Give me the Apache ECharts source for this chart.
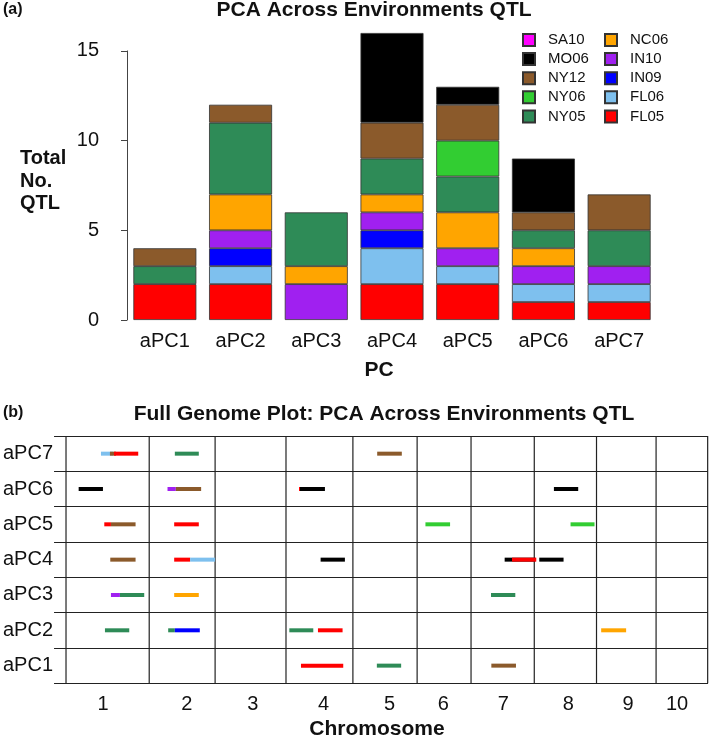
<!DOCTYPE html>
<html>
<head>
<meta charset="utf-8">
<script src="https://cdn.jsdelivr.net/npm/echarts@6/dist/echarts.min.js"></script>
<style>
html,body{margin:0;padding:0;background:#fff;}
#c{width:709px;height:738px;}
</style>
</head>
<body>
<div id="c"></div>
<script>
// ---------- DATA ----------
const pcs = ['aPC1', 'aPC2', 'aPC3', 'aPC4', 'aPC5', 'aPC6', 'aPC7'];
// stacking order, bottom to top
const envs = ['FL05', 'FL06', 'IN09', 'IN10', 'NC06', 'NY05', 'NY06', 'NY12', 'MO06', 'SA10'];
// number of QTL per environment, per PC (aPC1..aPC7)
const FL05 = [2, 2, 0, 2, 2, 1, 1];
const FL06 = [0, 1, 0, 2, 1, 1, 1];
const IN09 = [0, 1, 0, 1, 0, 0, 0];
const IN10 = [0, 1, 2, 1, 1, 1, 1];
const NC06 = [0, 2, 1, 1, 2, 1, 0];
const NY05 = [1, 4, 3, 2, 2, 1, 2];
const NY06 = [0, 0, 0, 0, 2, 0, 0];
const NY12 = [1, 1, 0, 2, 2, 1, 2];
const MO06 = [0, 0, 0, 5, 1, 3, 0];
const SA10 = [0, 0, 0, 0, 0, 0, 0];
const counts = { FL05, FL06, IN09, IN10, NC06, NY05, NY06, NY12, MO06, SA10 };
const yTicks = [0, 5, 10, 15];

// chromosome lengths (cM) and label positions (cumulative cM)
const chromNames = ['1', '2', '3', '4', '5', '6', '7', '8', '9', '10'];
const chrLen = [250, 198, 213, 201, 193, 162, 190, 187, 179, 155];
const chromTickPos = [111, 363, 561, 774, 972, 1134, 1314, 1509, 1689, 1836];

// QTL intervals (parallel arrays), drawn in this order
const qtlPC    = ['aPC7','aPC7','aPC7','aPC7','aPC7','aPC6','aPC6','aPC6','aPC6','aPC6','aPC6','aPC5','aPC5','aPC5','aPC5','aPC5','aPC4','aPC4','aPC4','aPC4','aPC4','aPC4','aPC4','aPC3','aPC3','aPC3','aPC3','aPC2','aPC2','aPC2','aPC2','aPC2','aPC2','aPC1','aPC1','aPC1'];
const qtlChr   = [1,1,1,2,5, 1,2,2,4,4,8, 1,1,2,6,8, 1,2,2,4,7,7,8, 1,1,2,7, 1,2,2,4,4,9, 4,5,7];
const qtlStart = [105,132,144,77,73, 38,55,80,39,42,59, 115,135,75,25,109, 133,75,123,104,101,123,15, 135,162,75,60, 117,57,77,10,96,14, 45,72,61];
const qtlEnd   = [141,150,217,149,147, 111,80,156,60,117,132, 135,209,149,99,181, 209,123,198,177,193,196,88, 162,235,149,133, 190,77,152,82,170,89, 172,145,135];
const qtlEnv   = ['FL06','NY12','FL05','NY05','NY12', 'MO06','IN10','NY12','FL05','MO06','MO06', 'FL05','NY12','FL05','NY06','NY06', 'NY12','FL05','FL06','MO06','MO06','FL05','MO06', 'IN10','NY05','NC06','NY05', 'NY05','NY05','IN09','NY05','FL05','NC06', 'FL05','NY05','NY12'];

// ---------- STYLE ----------
const envColors = {
  SA10: '#FF00FF', MO06: '#000000', NY12: '#8B5A2B', NY06: '#32CD32', NY05: '#2E8B57',
  NC06: '#FFA500', IN10: '#A020F0', IN09: '#0000FF', FL06: '#7EC0EE', FL05: '#FF0000'
};
const FONT = "'Liberation Sans', Arial, Helvetica, sans-serif";
const TXT = '#111';

// cumulative chromosome starts
const chrStart = [];
let acc = 0;
chrLen.forEach(l => { chrStart.push(acc); acc += l; });
const genomeEnd = acc;
const boundaries = chrStart.concat([genomeEnd]);

const segData = qtlPC.map((pc, i) => {
  const off = chrStart[qtlChr[i] - 1];
  return [pcs.indexOf(pc), off + qtlStart[i], off + qtlEnd[i], envs.indexOf(qtlEnv[i])];
});

const barSeries = envs.map(e => ({
  name: e,
  type: 'bar',
  stack: 'total',
  xAxisIndex: 0,
  yAxisIndex: 0,
  barWidth: 63,
  itemStyle: { color: envColors[e], borderColor: '#333', borderWidth: 0.8 },
  data: counts[e].map(v => (v === 0 ? '-' : v)),
  animation: false
}));

const chart = echarts.init(document.getElementById('c'), null, { renderer: 'canvas' });

const legendCommon = {
  orient: 'vertical',
  top: 32.5,
  padding: 0,
  itemWidth: 12,
  itemHeight: 12,
  itemGap: 4.1,
  icon: 'rect',
  selectedMode: false,
  textStyle: { fontFamily: FONT, fontSize: 15, color: TXT, padding: [0, 0, 0, 8] }
};

const option = {
  animation: false,
  textStyle: { fontFamily: FONT },
  legend: [
    Object.assign({ left: 522, data: ['SA10', 'MO06', 'NY12', 'NY06', 'NY05'] }, legendCommon),
    Object.assign({ left: 604, data: ['NC06', 'IN10', 'IN09', 'FL06', 'FL05'] }, legendCommon)
  ],
  grid: [
    { left: 127, top: 33, width: 530, height: 287 },
    { left: 127, top: 320 - 287 * 15 / 16, width: 530, height: 287 * 15 / 16 },
    { left: 53, top: 436, width: 655, height: 247.3 }
  ],
  xAxis: [
    {
      gridIndex: 0, type: 'category', data: pcs,
      axisLine: { show: false }, axisTick: { show: false },
      axisLabel: { fontFamily: FONT, fontSize: 20, color: TXT, margin: 11 }
    },
    { gridIndex: 1, type: 'value', show: false },
    {
      gridIndex: 2, type: 'value', min: -36, max: genomeEnd + 1,
      axisLine: { show: false }, axisTick: { show: false }, splitLine: { show: false },
      axisLabel: {
        fontFamily: FONT, fontSize: 20, color: TXT, margin: 11,
        customValues: chromTickPos,
        formatter: v => chromNames[chromTickPos.indexOf(v)]
      }
    }
  ],
  yAxis: [
    { gridIndex: 0, type: 'value', min: 0, max: 16, show: false },
    {
      gridIndex: 1, type: 'value', min: 0, max: 15, interval: 5, offset: 14,
      axisLine: { show: true, lineStyle: { color: '#444', width: 1 } },
      axisTick: { show: true, length: 6, lineStyle: { color: '#444' } },
      splitLine: { show: false },
      axisLabel: {
        fontFamily: FONT, fontSize: 20, color: TXT, margin: 14,
        customValues: yTicks
      }
    },
    {
      gridIndex: 2, type: 'category', data: pcs,
      axisLine: { show: false }, axisTick: { show: false },
      splitLine: { show: true, lineStyle: { color: '#222', width: 1.2 } },
      axisLabel: { fontFamily: FONT, fontSize: 20, color: TXT, margin: 1 }
    }
  ],
  series: barSeries.concat([
    {
      name: 'chromBounds',
      type: 'custom',
      xAxisIndex: 2,
      yAxisIndex: 2,
      data: boundaries.map(b => [0, b]),
      encode: { y: 0, x: 1 },
      renderItem: function (params, api) {
        const x = api.coord([api.value(1), 0])[0];
        const cs = params.coordSys;
        return {
          type: 'line',
          shape: { x1: x, y1: cs.y, x2: x, y2: cs.y + cs.height },
          style: { stroke: '#222', lineWidth: 1.2 }
        };
      },
      silent: true,
      animation: false
    },
    {
      name: 'qtl',
      type: 'custom',
      xAxisIndex: 2,
      yAxisIndex: 2,
      data: segData,
      encode: { y: 0, x: [1, 2] },
      renderItem: function (params, api) {
        const p1 = api.coord([api.value(1), api.value(0)]);
        const p2 = api.coord([api.value(2), api.value(0)]);
        const env = envs[api.value(3)];
        return {
          type: 'line',
          shape: { x1: p1[0], y1: p1[1], x2: p2[0], y2: p2[1] },
          style: { stroke: envColors[env], lineWidth: 4, lineCap: 'butt' }
        };
      },
      silent: true,
      animation: false
    }
  ]),
  graphic: [
    { type: 'text', left: 3, top: 2, style: { text: '(a)', font: 'bold 16px ' + FONT, fill: TXT } },
    { type: 'text', x: 374, y: 10, style: { text: 'PCA Across Environments QTL', font: 'bold 21px ' + FONT, fill: TXT, textAlign: 'center', textVerticalAlign: 'middle' } },
    { type: 'text', x: 20, y: 181, style: { text: 'Total\nNo.\nQTL', font: 'bold 20px ' + FONT, fill: TXT, textAlign: 'left', textVerticalAlign: 'middle', lineHeight: 22.5 } },
    { type: 'text', x: 379, y: 370, style: { text: 'PC', font: 'bold 21px ' + FONT, fill: TXT, textAlign: 'center', textVerticalAlign: 'middle' } },
    { type: 'text', left: 3, top: 405, style: { text: '(b)', font: 'bold 16px ' + FONT, fill: TXT } },
    { type: 'text', x: 384, y: 414, style: { text: 'Full Genome Plot: PCA Across Environments QTL', font: 'bold 21px ' + FONT, fill: TXT, textAlign: 'center', textVerticalAlign: 'middle' } },
    { type: 'text', x: 377, y: 729, style: { text: 'Chromosome', font: 'bold 21px ' + FONT, fill: TXT, textAlign: 'center', textVerticalAlign: 'middle' } }
  ]
};
chart.setOption(option);
</script>
</body>
</html>
